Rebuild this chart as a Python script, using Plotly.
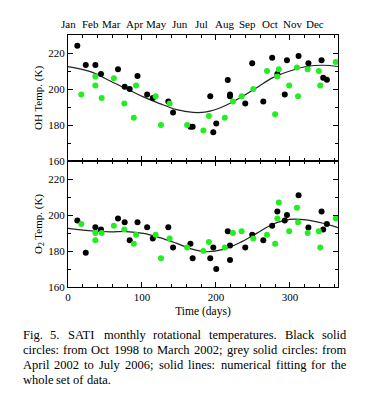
import plotly.graph_objects as go
from plotly.subplots import make_subplots

# ---------------- data ----------------
days_black = [12.6, 24, 37, 44.6, 67.6, 76.6, 83.4, 94, 107, 114.6, 135.6, 142,
              165.5, 168.5, 192.3, 196.4, 200.4, 216, 219, 219, 239.6, 249, 264,
              276, 283, 293, 296, 311.7, 325, 342.8, 345, 350]
oh_black = [224, 213.4, 213.4, 208.3, 211, 201.2, 200, 207.2, 197, 195, 193, 187,
            179, 179, 196, 176, 180.8, 205, 197, 196, 192, 214.3, 193,
            217.3, 208.3, 197, 216, 218.3, 214.3, 216, 206.3, 205.2]
o2_black = [197, 179, 193.2, 192, 198, 196, 186, 196, 193.2, 187, 193.2, 182,
            184, 176, 176, 182, 170, 191, 183, 175, 182, 189, 186,
            194, 202, 197, 200, 211, 193, 202, 192, 195]

days_green = [18, 37, 37, 45.5, 62, 76, 89, 92, 118.5, 125.7, 137.4, 161,
              183, 190.5, 212, 223, 234.7, 250.5, 269, 280, 283, 285, 299,
              309.5, 311, 324, 339, 341, 362]
oh_green = [197, 207, 202, 195, 206, 192, 184, 202, 196, 180, 192, 180,
            177, 185, 184, 193, 196, 200, 210, 186, 207, 211, 202,
            212, 196, 211, 210, 202, 215]
o2_green = [195, 190, 186, 190, 194, 192, 184, 189, 189, 176, 187, 182,
            180, 185, 182, 190, 191, 187, 189, 184, 198, 207, 191,
            204, 196, 190, 191, 182, 198]

fit_days = [0, 34, 57, 79, 102, 124, 147, 169, 187, 210, 232, 255, 277, 300, 322, 345, 365]
oh_fit = [212.4, 209.1, 204.4, 200.1, 195.6, 191.9, 188.5, 187.0, 187.3, 190.3,
          195.0, 200.7, 206.3, 210.0, 212.5, 213.2, 212.5]
o2_fit = [192.6, 191.1, 190.6, 190.8, 189.8, 187.4, 184.2, 180.9, 179.6, 180.9,
          184.6, 189.8, 194.9, 197.6, 197.3, 195.4, 193.0]

month_days = [0, 31, 59, 90, 120, 151, 181, 212, 243, 273, 304, 334]
month_labels = ["Jan", "Feb", "Mar", "Apr", "May", "Jun",
                "Jul", "Aug", "Sep", "Oct", "Nov", "Dec"]

caption_lines = [
    "Fig. 5. SATI monthly rotational temperatures. Black solid",
    "circles: from Oct 1998 to March 2002; grey solid circles: from",
    "April 2002 to July 2006; solid lines: numerical fitting for the",
    "whole set of data.",
]

# ---------------- styling ----------------
W, H = 372, 398
ML, MR, MT, MB = 68, 34, 35, 111
PW, PH = W - ML - MR, H - MT - MB
SERIF = "Liberation Serif"
GREEN = "#22ee22"

fig = make_subplots(rows=2, cols=1, shared_xaxes=True, vertical_spacing=0)

for row, yb, yg, yf in [(1, oh_black, oh_green, oh_fit), (2, o2_black, o2_green, o2_fit)]:
    fig.add_trace(go.Scatter(x=fit_days, y=yf, mode="lines",
                             line=dict(color="#222222", width=1.2, shape="spline", smoothing=1.0),
                             showlegend=False, hoverinfo="skip"), row=row, col=1)
    fig.add_trace(go.Scatter(x=days_black, y=yb, mode="markers",
                             marker=dict(color="black", size=6, line=dict(width=0)),
                             showlegend=False), row=row, col=1)
    fig.add_trace(go.Scatter(x=days_green, y=yg, mode="markers",
                             marker=dict(color=GREEN, size=6, line=dict(width=0)),
                             showlegend=False), row=row, col=1)

axis_common = dict(showline=True, linecolor="black", linewidth=1, mirror="ticks",
                   ticks="inside", ticklen=5, tickcolor="black", showgrid=False,
                   zeroline=False, tickfont=dict(family=SERIF, size=11, color="black"))

fig.update_xaxes(range=[0, 365], dtick=100, tick0=0,
                 minor=dict(dtick=20, ticks="inside", ticklen=3, tickcolor="black", showgrid=False),
                 **axis_common)
fig.update_xaxes(showticklabels=False, row=1, col=1)
fig.update_xaxes(title=dict(text="Time (days)", font=dict(family=SERIF, size=11.5, color="black"),
                            standoff=4), row=2, col=1)
fig.update_yaxes(range=[160, 230], dtick=20, tick0=160,
                 minor=dict(dtick=10, ticks="inside", ticklen=3, tickcolor="black", showgrid=False),
                 **axis_common)
fig.update_yaxes(title=dict(text="OH Temp. (K)", font=dict(family=SERIF, size=11, color="black"),
                            standoff=3), row=1, col=1)
fig.update_yaxes(title=dict(text="O<sub>2</sub> Temp. (K)", font=dict(family=SERIF, size=11, color="black"),
                            standoff=3), row=2, col=1)

# month labels above the top panel
for d, m in zip(month_days, month_labels):
    fig.add_annotation(x=d, y=1, xref="x", yref="paper", text=m, showarrow=False,
                       xanchor="center", yanchor="bottom", yshift=3,
                       font=dict(family=SERIF, size=11, color="black"))

# caption, justified with Times metrics
TW = {' ': 250, '.': 250, ',': 250, ';': 278, ':': 278, '(': 333, ')': 333,
      'A': 722, 'B': 667, 'C': 667, 'D': 722, 'E': 611, 'F': 556, 'G': 722, 'H': 722,
      'I': 333, 'J': 389, 'K': 722, 'L': 611, 'M': 889, 'N': 722, 'O': 722, 'P': 556,
      'Q': 722, 'R': 667, 'S': 556, 'T': 611, 'U': 722, 'V': 722, 'W': 944, 'X': 722,
      'Y': 722, 'Z': 611, 'a': 444, 'b': 500, 'c': 444, 'd': 500, 'e': 444, 'f': 333,
      'g': 500, 'h': 500, 'i': 278, 'j': 278, 'k': 500, 'l': 278, 'm': 778, 'n': 500,
      'o': 500, 'p': 500, 'q': 500, 'r': 333, 's': 389, 't': 278, 'u': 500, 'v': 500,
      'w': 722, 'x': 500, 'y': 500, 'z': 444}
CAP_SIZE = 12.5
CAP_LEFT, CAP_RIGHT = 20.5, 344.5
cap_y_px = [335, 350, 365, 380]


def wwidth(word):
    return sum(TW.get(c, 500) for c in word) / 1000 * CAP_SIZE


def to_px_paper_x(px):
    return (px - ML) / PW


def to_px_paper_y(py):
    return (H - MB - py) / PH


for i, (line, py) in enumerate(zip(caption_lines, cap_y_px)):
    words = line.split(" ")
    last = i == len(caption_lines) - 1
    if last:
        gap = TW[' '] / 1000 * CAP_SIZE
    else:
        total = sum(wwidth(w) for w in words)
        gap = (CAP_RIGHT - CAP_LEFT - total) / (len(words) - 1)
    x = CAP_LEFT
    for w in words:
        fig.add_annotation(x=to_px_paper_x(x), y=to_px_paper_y(py), xref="paper", yref="paper",
                           text=w, showarrow=False, xanchor="left", yanchor="middle",
                           font=dict(family=SERIF, size=CAP_SIZE, color="black"))
        x += wwidth(w) + gap

fig.update_layout(width=W, height=H, margin=dict(l=ML, r=MR, t=MT, b=MB),
                  paper_bgcolor="white", plot_bgcolor="white")

fig.write_html("out.html", config={"displayModeBar": False},
               post_script="document.body.style.margin='0px';document.body.style.overflow='hidden';")
